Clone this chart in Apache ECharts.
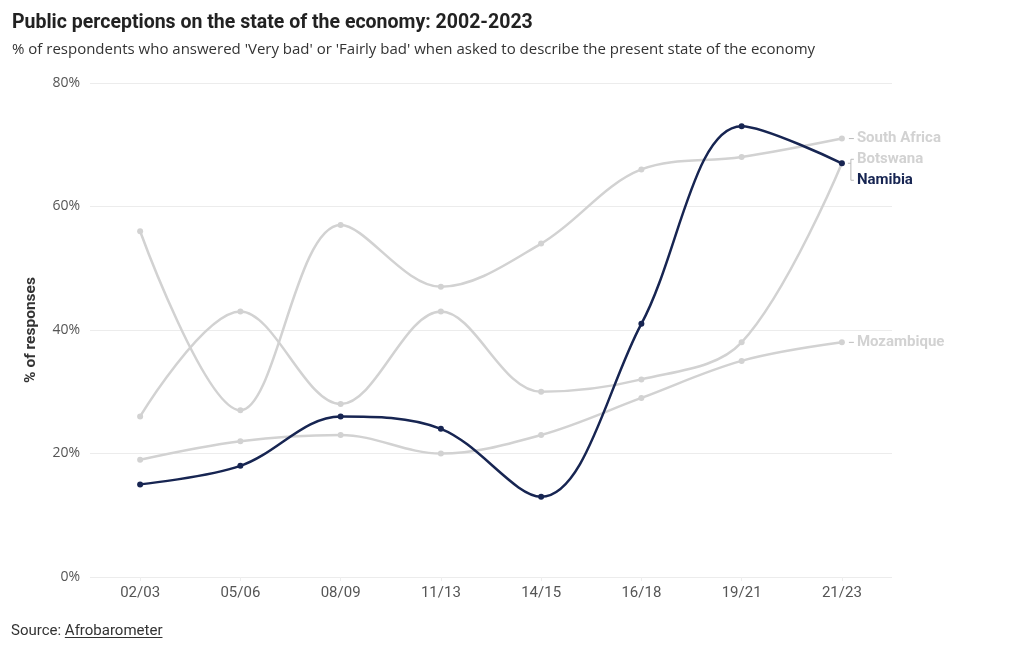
<!DOCTYPE html>
<html>
<head>
<meta charset="utf-8">
<script src="https://cdn.jsdelivr.net/npm/echarts@6/dist/echarts.min.js"></script>
<style>
  html, body { margin: 0; padding: 0; background: #fff; }
  #chart { width: 1020px; height: 650px; }
  #source { position: absolute; left: 11px; top: 621px; font-family: Roboto, sans-serif; font-size: 15px; color: #333; }
  #source u { text-underline-offset: 2px; }
</style>
</head>
<body>
<div id="chart"></div>
<div id="source">Source: <u>Afrobarometer</u></div>
<script>
const categories = ['02/03', '05/06', '08/09', '11/13', '14/15', '16/18', '19/21', '21/23'];
const yTicks = [0, 20, 40, 60, 80];
const southAfrica = [56, 27, 57, 47, 54, 66, 68, 71];
const botswana = [26, 43, 28, 43, 30, 32, 38, 67];
const mozambique = [19, 22, 23, 20, 23, 29, 35, 38];
const namibia = [15, 18, 26, 24, 13, 41, 73, 67];

const GRAY = '#d2d2d2';
const NAVY = '#172552';
const FONT = 'Roboto, sans-serif';

function lineSeries(name, data, color, z, labelColor, offset) {
  return {
    name, type: 'line', data, z,
    smooth: 0.35,
    symbol: 'circle', symbolSize: 6,
    lineStyle: { color, width: 2.5 },
    itemStyle: { color },
    emphasis: { disabled: true },
    endLabel: {
      show: true, formatter: name, distance: 15, offset,
      color: labelColor, fontFamily: FONT, fontSize: 15, fontWeight: 'bold'
    }
  };
}

const chart = echarts.init(document.getElementById('chart'));
chart.setOption({
  animation: false,
  title: [
    { text: 'Public perceptions on the state of the economy: 2002-2023', left: 7, top: 8,
      textStyle: { fontFamily: FONT, fontSize: 19.5, fontWeight: 'bold', color: '#222' } },
    { text: "% of respondents who answered 'Very bad' or 'Fairly bad' when asked to describe the present state of the economy",
      left: 7, top: 37, textStyle: { fontFamily: "'Open Sans', sans-serif", fontSize: 15, fontWeight: 'normal', color: '#333' } }
  ],
  grid: { left: 90, right: 128, top: 83, bottom: 73 },
  xAxis: {
    type: 'category', data: categories, boundaryGap: true,
    axisLine: { show: false },
    axisTick: { show: true, alignWithLabel: true, length: 4, lineStyle: { color: '#eee' } },
    axisLabel: { fontFamily: FONT, fontSize: 15, color: '#555', margin: 9 }
  },
  yAxis: {
    type: 'value', min: yTicks[0], max: yTicks[yTicks.length - 1], interval: 20,
    name: '% of responses', nameLocation: 'middle', nameGap: 51, nameRotate: 90,
    nameTextStyle: { fontFamily: FONT, fontSize: 15.5, fontWeight: 'bold', color: '#333' },
    axisLabel: { formatter: '{value}%', fontFamily: "'Open Sans', sans-serif", fontSize: 14, color: '#555', margin: 10 },
    splitLine: { lineStyle: { color: '#ececec' } }
  },
  series: [
    lineSeries('South Africa', southAfrica, GRAY, 2, GRAY, [0, 0]),
    lineSeries('Botswana', botswana, GRAY, 2, GRAY, [0, -4]),
    lineSeries('Mozambique', mozambique, GRAY, 2, GRAY, [0, 0]),
    lineSeries('Namibia', namibia, NAVY, 5, NAVY, [0, 17])
  ]
});

// label connectors positioned from the chart's own scale
const last = categories.length - 1;
function px(v) { return chart.convertToPixel({ seriesIndex: 0 }, [last, v]); }
const saP = px(southAfrica[last]);
const mzP = px(mozambique[last]);
const bwP = px(botswana[last]);
const ls = { stroke: '#bbb', lineWidth: 1 };
chart.setOption({
  graphic: [
    { type: 'line', shape: { x1: saP[0] + 7, y1: saP[1], x2: saP[0] + 12, y2: saP[1] }, style: ls, silent: true },
    { type: 'line', shape: { x1: mzP[0] + 7, y1: mzP[1], x2: mzP[0] + 12, y2: mzP[1] }, style: ls, silent: true },
    { type: 'polyline', shape: { points: [[bwP[0] + 6, bwP[1]], [bwP[0] + 9, bwP[1]]] }, style: ls, silent: true },
    { type: 'polyline', shape: { points: [[bwP[0] + 12, bwP[1] - 4], [bwP[0] + 9, bwP[1] - 4], [bwP[0] + 9, bwP[1] + 17], [bwP[0] + 12, bwP[1] + 17]] }, style: ls, silent: true }
  ]
});
</script>
</body>
</html>
